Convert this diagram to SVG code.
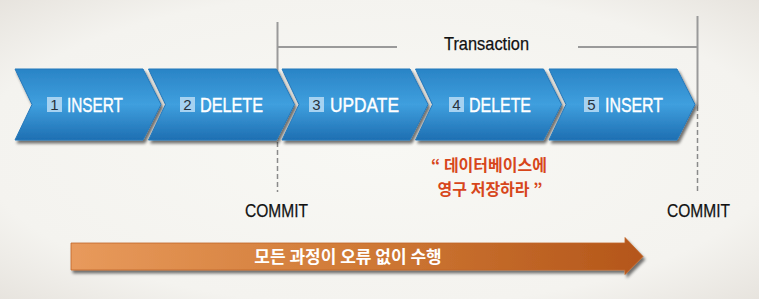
<svg xmlns="http://www.w3.org/2000/svg" xmlns:xlink="http://www.w3.org/1999/xlink" width="759" height="299" viewBox="0 0 759 299">
<defs>
<radialGradient id="bg" cx="50%" cy="50%" r="75%">
<stop offset="0%" stop-color="#f8f8f4"/>
<stop offset="70%" stop-color="#f4f3ef"/>
<stop offset="100%" stop-color="#e4e0da"/>
</radialGradient>
<linearGradient id="blue" x1="0" y1="0" x2="0" y2="1">
<stop offset="0%" stop-color="#2a84c6"/>
<stop offset="50%" stop-color="#3f9fde"/>
<stop offset="100%" stop-color="#1e6fb2"/>
</linearGradient>
<linearGradient id="orange" x1="0" y1="0" x2="1" y2="0">
<stop offset="0%" stop-color="#e89a5c"/>
<stop offset="50%" stop-color="#d07a36"/>
<stop offset="100%" stop-color="#b4561a"/>
</linearGradient>
<filter id="shadow" x="-10%" y="-10%" width="120%" height="130%">
<feGaussianBlur in="SourceAlpha" stdDeviation="1.5"/>
<feOffset dx="2" dy="3" result="b"/>
<feComponentTransfer><feFuncA type="linear" slope="0.55"/></feComponentTransfer>
<feMerge><feMergeNode/><feMergeNode in="SourceGraphic"/></feMerge>
</filter>
<path id="chev" d="M0,69 L128,69 L146,104.5 L128,140 L0,140 L17,104.5 Z"/>
</defs>
<style>
.chev{fill:url(#blue);stroke:#2679bb;stroke-width:1;stroke-linejoin:round;filter:url(#shadow)}
.nbox{fill:#a6d2f1}
.num{font-family:"Liberation Sans",sans-serif;font-size:15px;fill:#26323e;text-anchor:middle}
.lbl{font-family:"Liberation Sans",sans-serif;font-size:21px;fill:#ffffff;stroke:#ffffff;stroke-width:0.4}
.blk{font-family:"Liberation Sans",sans-serif;font-size:19px;fill:#111111;stroke:#111111;stroke-width:0.25}
.red{font-family:"Noto Sans CJK KR",sans-serif;font-size:16px;font-weight:bold;fill:#d7461b;text-anchor:middle}
.wht{font-family:"Noto Sans CJK KR",sans-serif;font-size:17px;font-weight:bold;fill:#ffffff;text-anchor:middle}
.brk{stroke:#9a9a9a;stroke-width:2;fill:none}
.dash{stroke:#8a8a8a;stroke-width:1.5;stroke-dasharray:5 3;fill:none}
</style>
<rect width="759" height="299" fill="url(#bg)"/>
<g id="connectors">
<line class="brk" x1="277.5" y1="22" x2="277.5" y2="70"/>
<line class="brk" x1="697.5" y1="16" x2="697.5" y2="106"/>
<line class="brk" x1="277.5" y1="47" x2="397" y2="47"/>
<line class="brk" x1="578" y1="47" x2="697.5" y2="47"/>
<line class="dash" x1="277.5" y1="70" x2="277.5" y2="192"/>
<line class="dash" x1="697.5" y1="106" x2="697.5" y2="192"/>
</g>
<text class="blk" x="486.5" y="50" text-anchor="middle" textLength="85" lengthAdjust="spacingAndGlyphs" font-size="19">Transaction</text>
<g id="step1">
<use xlink:href="#chev" class="chev" transform="translate(15,0)"/>
<rect class="nbox" x="47" y="97" width="15" height="15"/>
<text class="num" x="54.5" y="110">1</text>
<text class="lbl" x="67" y="112" textLength="56" lengthAdjust="spacingAndGlyphs">INSERT</text>
</g>
<g id="step2">
<use xlink:href="#chev" class="chev" transform="translate(148.5,0)"/>
<rect class="nbox" x="180" y="97" width="15" height="15"/>
<text class="num" x="187.5" y="110">2</text>
<text class="lbl" x="200" y="112" textLength="63" lengthAdjust="spacingAndGlyphs">DELETE</text>
</g>
<g id="step3">
<use xlink:href="#chev" class="chev" transform="translate(282,0)"/>
<rect class="nbox" x="309" y="97" width="15" height="15"/>
<text class="num" x="316.5" y="110">3</text>
<text class="lbl" x="330" y="112" textLength="69" lengthAdjust="spacingAndGlyphs">UPDATE</text>
</g>
<g id="step4">
<use xlink:href="#chev" class="chev" transform="translate(415.5,0)"/>
<rect class="nbox" x="449" y="97" width="15" height="15"/>
<text class="num" x="456.5" y="110">4</text>
<text class="lbl" x="469" y="112" textLength="62" lengthAdjust="spacingAndGlyphs">DELETE</text>
</g>
<g id="step5">
<use xlink:href="#chev" class="chev" transform="translate(549,0)"/>
<rect class="nbox" x="584" y="97" width="15" height="15"/>
<text class="num" x="591.5" y="110">5</text>
<text class="lbl" x="605" y="112" textLength="58" lengthAdjust="spacingAndGlyphs">INSERT</text>
</g>
<g id="commit-left">
<text class="blk" x="245" y="217" textLength="63" lengthAdjust="spacingAndGlyphs">COMMIT</text>
</g>
<g id="commit-right">
<text class="blk" x="667" y="217" textLength="63" lengthAdjust="spacingAndGlyphs">COMMIT</text>
</g>
<g id="note">
<text class="red" x="489" y="171">“ 데이터베이스에</text>
<text class="red" x="490" y="195">영구 저장하라 ”</text>
</g>
<g id="flow">
<path d="M71,243 L625,243 L625,237.5 L643,256.5 L625,274.5 L625,270 L71,270 Z" fill="url(#orange)" stroke="#c0652a" stroke-width="0.8" filter="url(#shadow)"/>
<text class="wht" x="348" y="263">모든 과정이 오류 없이 수행</text>
</g>
</svg>
